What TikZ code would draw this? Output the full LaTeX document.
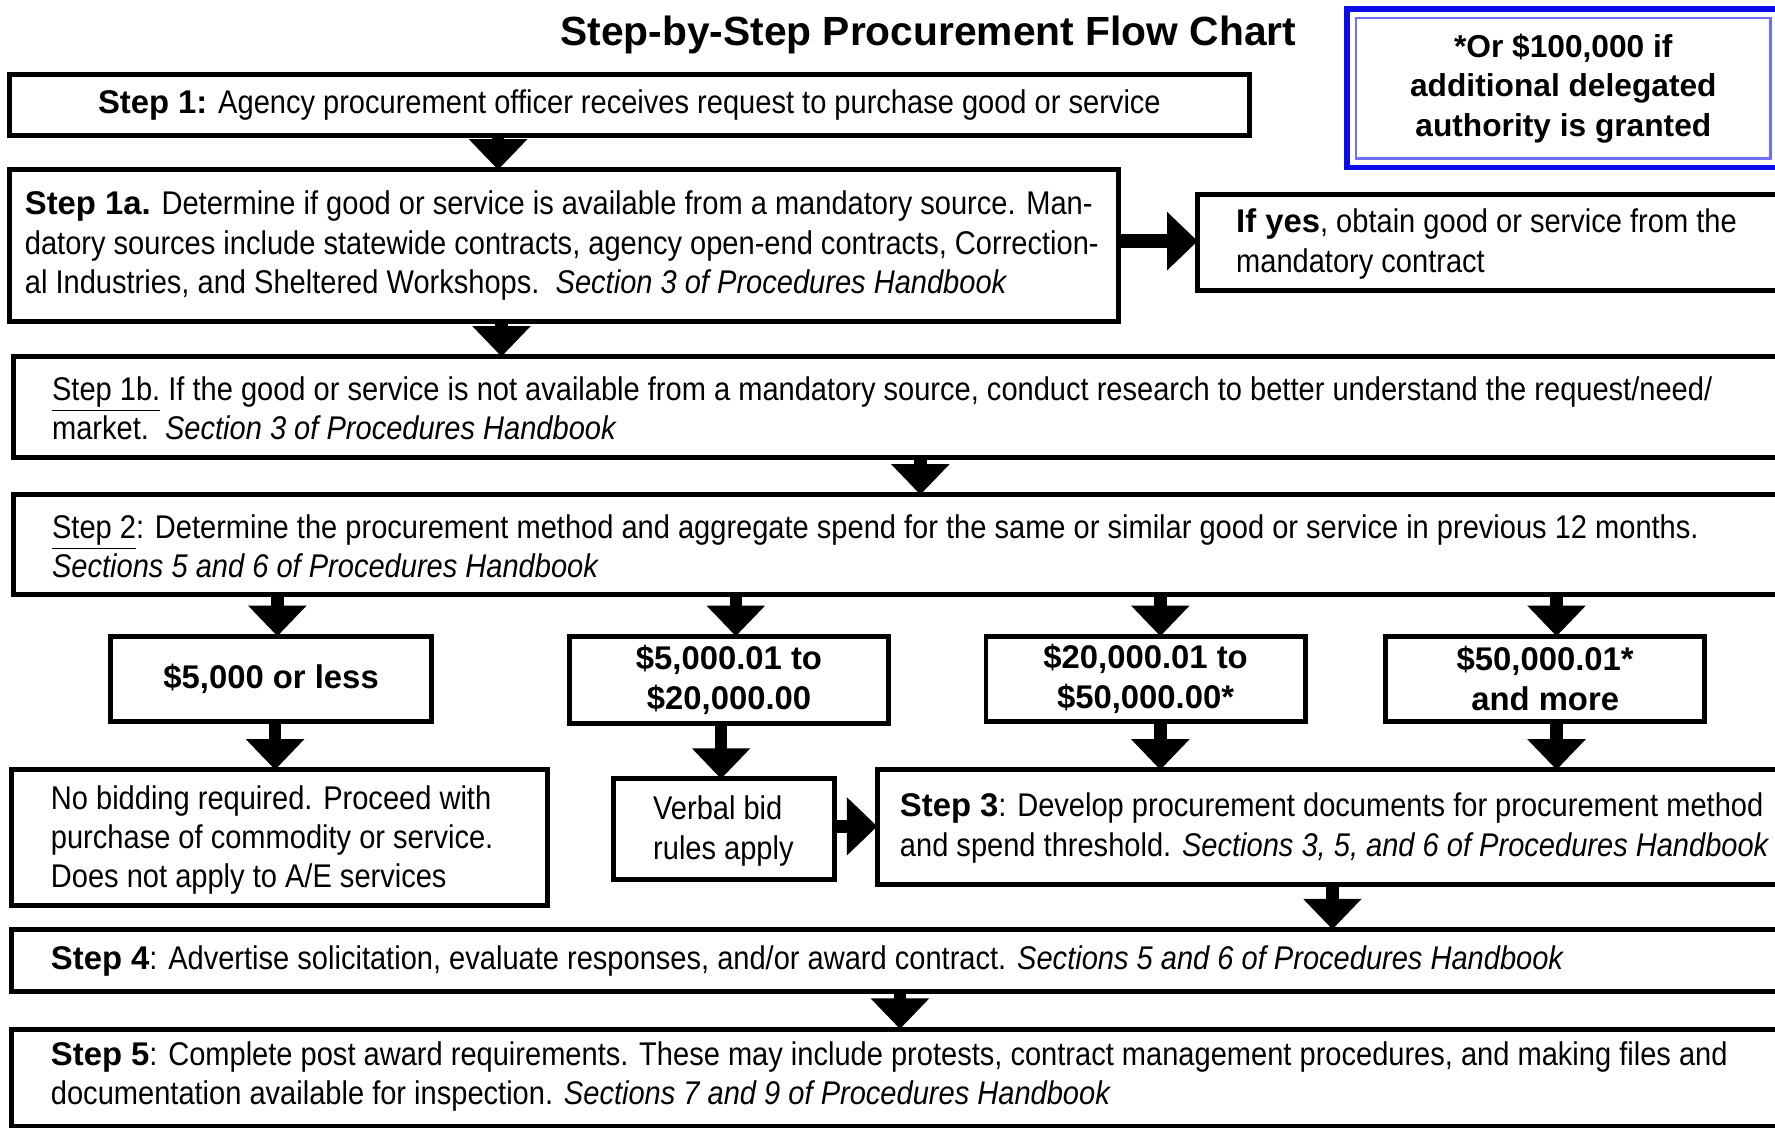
\documentclass[tikz,border=0pt]{standalone}
\usepackage{fontspec}
\setmainfont{Liberation Sans}
\newfontfamily\condf{Liberation Sans}[FakeStretch=0.885]
\usetikzlibrary{arrows.meta}
\definecolor{noteblue}{RGB}{12,12,235}
\definecolor{noteinner}{RGB}{110,110,255}
\newcommand\stb[1]{{\rmfamily\bfseries #1}}
\tikzset{
  box/.style={draw, line width=2.2pt, rectangle, inner sep=0pt, outer sep=0pt, anchor=north west},
  txt/.style={inner sep=0pt, outer sep=0pt, align=left, anchor=west, font=\condf\fontsize{14.5}{17.4}\selectfont},
  amt/.style={box, align=center, font=\rmfamily\bfseries\fontsize{14.5}{17.5}\selectfont},
  arr/.style={line width=5.5pt, -{Triangle[width=25pt,length=13.5pt]}},
}
\begin{document}
\begin{tikzpicture}[x=0.5pt,y=-0.5pt]
\useasboundingbox (0,0) rectangle (1568,995.6);
\clip (0,0) rectangle (1568,995.6);
\fill[white] (0,0) rectangle (1568,995.6);

% title
\node[inner sep=0pt, font=\rmfamily\bfseries\fontsize{18}{21}\selectfont] (title) at (820,31) {Step-by-Step Procurement Flow Chart};

% note box
\node[box, draw=noteblue, line width=2.6pt, minimum width=191pt, minimum height=70pt] (note) at (1190,8) {};
\draw[noteinner, line width=0.9pt] ([shift={(4pt,-4pt)}]note.north west) rectangle ([shift={(-4pt,4pt)}]note.south east);
\node[inner sep=0pt, align=center, font=\rmfamily\bfseries\fontsize{14}{17.5}\selectfont] (notet) at (note.center) {*Or \$100,000 if\\additional delegated\\authority is granted};

% boxes
\node[box, minimum width=548pt, minimum height=27pt, font=\condf\fontsize{14.5}{17.4}\selectfont] (s1) at (8,66) {\stb{Step 1:} Agency procurement officer receives request to purchase good or service};
\node[box, minimum width=490pt, minimum height=67pt] (s1a) at (8,150) {};
\node[box, minimum width=261pt, minimum height=42.5pt] (yes) at (1058,172) {};
\node[box, minimum width=784pt, minimum height=44.5pt] (s1b) at (12,315) {};
\node[box, minimum width=784pt, minimum height=44pt] (s2) at (12,437) {};
\node[amt, minimum width=141.5pt, minimum height=37.5pt] (a1) at (98,562) {\$5,000 or less};
\node[amt, minimum width=141pt, minimum height=38.5pt] (a2) at (503,562) {\$5,000.01 to\\\$20,000.00};
\node[amt, minimum width=141pt, minimum height=37.5pt] (a3) at (871,562) {\$20,000.01 to\\\$50,000.00*};
\node[amt, minimum width=141pt, minimum height=37.5pt] (a4) at (1224,562) {\$50,000.01*\\and more};
\node[box, minimum width=237pt, minimum height=60pt] (nob) at (10,680) {};
\node[box, minimum width=97.5pt, minimum height=44.5pt] (verb) at (542,688) {};
\node[box, minimum width=405pt, minimum height=50.5pt] (s3) at (775,680) {};
\node[box, minimum width=790pt, minimum height=27.5pt] (s4) at (10,821) {};
\node[box, minimum width=790pt, minimum height=43pt] (s5) at (10,909) {};

% texts
\node[txt] (t1a) at (22,217) {\stb{Step 1a.} Determine if good or service is available from a mandatory source. Man-\\datory sources include statewide contracts, agency open-end contracts, Correction-\\al Industries, and Sheltered Workshops.\ \ \textit{Section 3 of Procedures Handbook}};
\node[txt] (tyes) at (1092,215.5) {\stb{If yes}, obtain good or service from the\\mandatory contract};
\node[txt] (t1b) at (46,360.5) {\underline{Step 1b.} If the good or service is not available from a mandatory source, conduct research to better understand the request/need/\\market.\ \ \textit{Section 3 of Procedures Handbook}};
\node[txt] (t2) at (46,482.5) {\underline{Step 2}: Determine the procurement method and aggregate spend for the same or similar good or service in previous 12 months.\\\textit{Sections 5 and 6 of Procedures Handbook}};
\node[txt] (tnob) at (45,742) {No bidding required. Proceed with\\purchase of commodity or service.\\Does not apply to A/E services};
\node[txt] (tverb) at (577,734) {Verbal bid\\rules apply};
\node[txt] (t3) at (795,731.5) {\stb{Step 3}: Develop procurement documents for procurement method\\and spend threshold. \textit{Sections 3, 5, and 6 of Procedures Handbook}};
\node[txt] (t4) at (45,849) {\stb{Step 4}: Advertise solicitation, evaluate responses, and/or award contract. \textit{Sections 5 and 6 of Procedures Handbook}};
\node[txt] (t5) at (45,951) {\stb{Step 5}: Complete post award requirements. These may include protests, contract management procedures, and making files and\\documentation available for inspection. \textit{Sections 7 and 9 of Procedures Handbook}};

% arrows
\draw[arr] (440,0 |- s1.south) -- (440,0 |- s1a.north);
\draw[arr, line width=6.5pt] (s1a.east |- 0,213) -- (yes.west |- 0,213);
\draw[arr] (443,0 |- s1a.south) -- (443,0 |- s1b.north);
\draw[arr] (813,0 |- s1b.south) -- (813,0 |- s2.north);
\draw[arr] (245,0 |- s2.south) -- (245,0 |- a1.north);
\draw[arr] (650,0 |- s2.south) -- (650,0 |- a2.north);
\draw[arr] (1025,0 |- s2.south) -- (1025,0 |- a3.north);
\draw[arr] (1375,0 |- s2.south) -- (1375,0 |- a4.north);
\draw[arr] (243,0 |- a1.south) -- (243,0 |- nob.north);
\draw[arr] (637,0 |- a2.south) -- (637,0 |- verb.north);
\draw[arr] (1025,0 |- a3.south) -- (1025,0 |- s3.north);
\draw[arr] (1375,0 |- a4.south) -- (1375,0 |- s3.north);
\draw[arr] (verb.east |- 0,730) -- (s3.west |- 0,730);
\draw[arr] (1177,0 |- s3.south) -- (1177,0 |- s4.north);
\draw[arr] (795,0 |- s4.south) -- (795,0 |- s5.north);
\end{tikzpicture}
\end{document}
